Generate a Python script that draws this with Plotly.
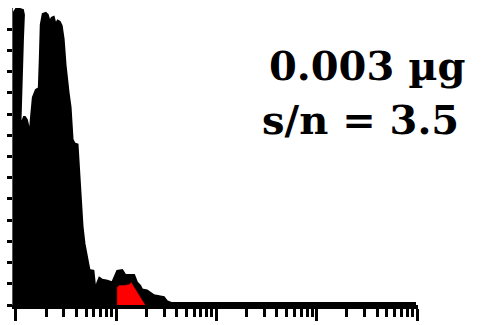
import plotly.graph_objects as go

# Black trace outline (x on log scale, y in signal units)
trace_x = [0.955, 0.955, 1.0, 1.096, 1.173, 1.20, 1.173, 1.147, 1.121, 1.096,
           1.147, 1.20, 1.228, 1.285, 1.345, 1.376, 1.408, 1.44, 1.474, 1.578,
           1.69, 1.729, 1.768, 1.850, 1.982, 2.074, 2.171, 2.272, 2.378, 2.489,
           2.605, 2.727, 2.854, 2.987, 3.126, 3.348, 3.504, 3.667, 3.838, 4.111,
           4.302, 4.401, 4.607, 4.822, 5.164, 5.404, 5.921, 6.196, 6.485, 6.787,
           7.268, 8.144, 9.129, 9.774, 10.23, 11.47, 12.28, 15.08, 16.14, 17.29,
           18.09, 20.27, 21.71, 23.78, 29.87, 31.99, 35.85, 9550, 9550]
trace_y = [0, 13.81, 13.95, 13.95, 13.9, 13.68, 12.53, 11.29, 9.32, 7.85,
           8.63, 8.86, 8.86, 8.72, 8.31, 8.08, 8.77, 9.32, 9.78, 10.14,
           10.23, 11.61, 13.22, 13.72, 13.77, 13.68, 13.35, 13.54, 13.58, 13.22,
           13.40, 13.35, 13.17, 12.53, 11.29, 10.0, 9.32, 7.80, 7.62, 7.57,
           5.97, 4.73, 3.72, 2.89, 2.07, 1.65, 1.61, 0.73, 1.06, 1.28,
           1.19, 1.15, 1.06, 1.42, 1.61, 1.65, 1.42, 1.42, 1.06, 0.92,
           0.73, 0.69, 0.60, 0.46, 0.37, 0.18, 0.09, 0.09, 0]

# Red integrated peak
peak_x = [10.23, 10.23, 10.71, 12.0, 13.45, 14.08, 15.08, 16.14, 17.29, 18.51, 19.37]
peak_y = [0, 0.83, 0.92, 0.92, 0.96, 1.06, 0.83, 0.60, 0.37, 0.14, 0]

y_ticks = list(range(0, 14))
label_amount = "0.003 µg"
label_sn = "s/n = 3.5"

fig = go.Figure()
fig.add_trace(go.Scatter(x=trace_x, y=trace_y, mode="lines", fill="toself",
                         fillcolor="black", line=dict(color="black", width=2),
                         hoverinfo="skip"))
fig.add_trace(go.Scatter(x=peak_x, y=peak_y, mode="lines", fill="toself",
                         fillcolor="#ff0000", line=dict(color="#ff0000", width=0.5),
                         hoverinfo="skip"))

fig.update_layout(
    width=484, height=325,
    margin=dict(l=10, r=66, t=8, b=12),
    paper_bgcolor="white", plot_bgcolor="white",
    showlegend=False,
    xaxis=dict(type="log", range=[-0.0297, 4.0099], showgrid=False, zeroline=False,
               showline=True, linecolor="black", linewidth=4,
               ticks="outside", ticklen=12, tickwidth=3, tickcolor="black",
               dtick=1, showticklabels=False, layer="above traces",
               minor=dict(ticks="outside", ticklen=8, tickwidth=3,
                          tickcolor="black", dtick="D1", showgrid=False)),
    yaxis=dict(range=[0, 14], showgrid=False, zeroline=False,
               showline=True, linecolor="#555555", linewidth=1,
               ticks="outside", ticklen=5, tickwidth=3, tickcolor="black",
               tickvals=y_ticks, showticklabels=False),
    annotations=[
        dict(text="<b>" + label_amount + "</b>", xref="paper", yref="paper",
             x=0.873, y=0.807, xanchor="center", yanchor="middle", showarrow=False,
             font=dict(family="DejaVu Serif", size=40, color="black")),
        dict(text="<b>" + label_sn + "</b>", xref="paper", yref="paper",
             x=0.858, y=0.624, xanchor="center", yanchor="middle", showarrow=False,
             font=dict(family="DejaVu Serif", size=40, color="black")),
    ],
)

fig.write_html("out.html")
